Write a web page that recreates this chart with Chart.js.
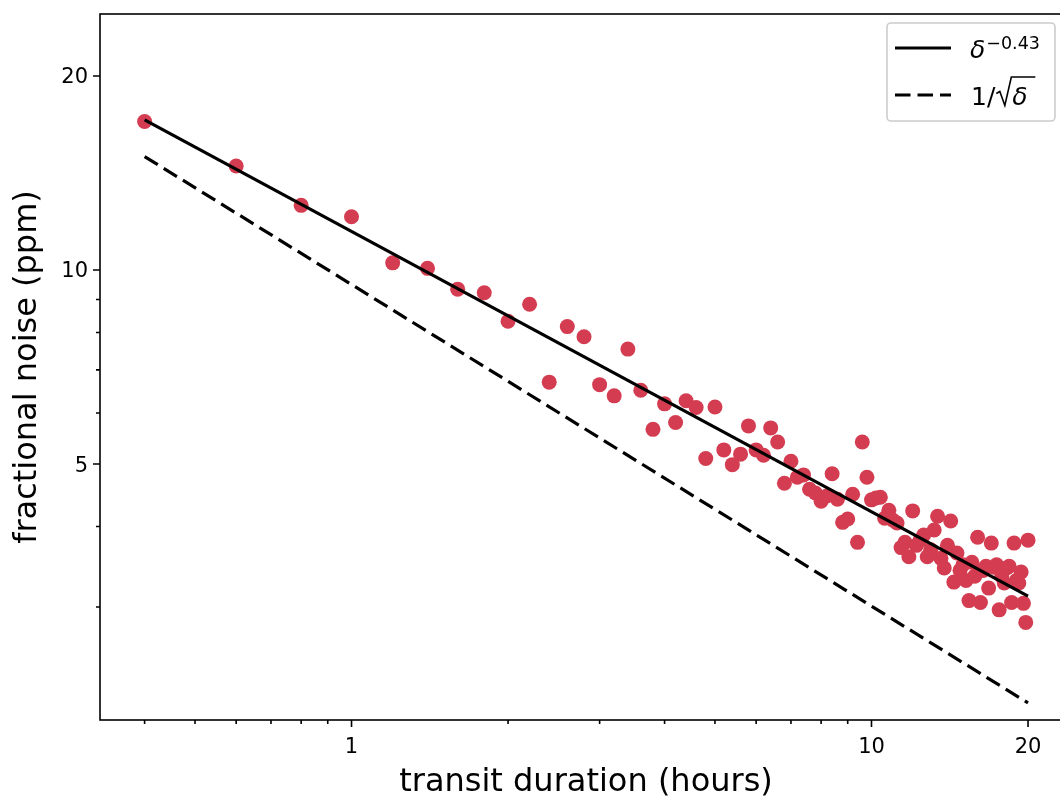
<!DOCTYPE html>
<html lang="en">
<head>
  <meta charset="UTF-8">
  <title>Fractional noise vs transit duration</title>
  <script src="https://cdn.jsdelivr.net/npm/chart.js"></script>
  <style>
    body {
      margin: 0;
      background: #ffffff;
    }
    .plot-wrap {
      width: 1060px;
      height: 802px;
      overflow: hidden;
    }
  </style>
</head>
<body>

<div class="plot-wrap">
  <canvas id="noiseChart" width="1080" height="802"></canvas>
</div>

<script>
// transit durations (hours) and measured fractional noise (ppm)
const durations = [
  0.4, 0.6, 0.8, 1.0, 1.2, 1.4, 1.6, 1.8, 2.0, 2.2,
  2.4, 2.6, 2.8, 3.0, 3.2, 3.4, 3.6, 3.8, 4.0, 4.2,
  4.4, 4.6, 4.8, 5.0, 5.2, 5.4, 5.6, 5.8, 6.0, 6.2,
  6.4, 6.6, 6.8, 7.0, 7.2, 7.4, 7.6, 7.8, 8.0, 8.2,
  8.4, 8.6, 8.8, 9.0, 9.2, 9.4, 9.6, 9.8, 10.0, 10.2,
  10.4, 10.6, 10.8, 11.0, 11.2, 11.4, 11.6, 11.8, 12.0, 12.2,
  12.4, 12.6, 12.8, 13.0, 13.2, 13.4, 13.6, 13.8, 14.0, 14.2,
  14.4, 14.6, 14.8, 15.0, 15.2, 15.4, 15.6, 15.8, 16.0, 16.2,
  16.4, 16.6, 16.8, 17.0, 17.2, 17.4, 17.6, 17.8, 18.0, 18.2,
  18.4, 18.6, 18.8, 19.0, 19.2, 19.4, 19.6, 19.8, 20.0
];
const noise = [
  17.0, 14.5, 12.6, 12.1, 10.26, 10.06, 9.34, 9.22, 8.33, 8.85,
  6.70, 8.17, 7.88, 6.64, 6.38, 7.54, 6.51, 5.66, 6.20, 5.80,
  6.27, 6.12, 5.10, 6.13, 5.26, 4.99, 5.18, 5.73, 5.26, 5.16,
  5.69, 5.41, 4.67, 5.05, 4.77, 4.81, 4.57, 4.51, 4.38, 4.46,
  4.83, 4.41, 4.06, 4.11, 4.49, 3.78, 5.41, 4.77, 4.40, 4.43,
  4.44, 4.12, 4.24, 4.09, 4.05, 3.71, 3.78, 3.59, 4.23, 3.74,
  3.81, 3.88, 3.59, 3.68, 3.95, 4.15, 3.57, 3.45, 3.74, 4.08,
  3.28, 3.64, 3.42, 3.49, 3.30, 3.07, 3.52, 3.35, 3.85, 3.05,
  3.42, 3.47, 3.21, 3.77, 3.46, 3.49, 2.97, 3.35, 3.27, 3.45,
  3.47, 3.05, 3.77, 3.30, 3.27, 3.40, 3.04, 2.84, 3.81
];

// end points of the two reference power laws
const fitX = [0.4, 20];
const fitPower = [17.1, 3.12];   // delta^-0.43
const fitSqrt = [15.0, 2.13];    // 1/sqrt(delta)

// tick positions; only the listed ones get a label
const xTicks = [0.4, 0.5, 0.6, 0.7, 0.8, 0.9, 1, 2, 3, 4, 5, 6, 7, 8, 9, 10, 20];
const xLabels = [1, 10, 20];
const yTicks = [3, 4, 5, 6, 7, 8, 9, 10, 20];
const yLabels = [5, 10, 20];

const FONT = "'DejaVu Sans', sans-serif";
const DOT = '#d43d51';

// box around the plot plus outward tick marks (major 7px, minor 4px)
const axesFrame = {
  id: 'axesFrame',
  afterDatasetsDraw(chart) {
    const { ctx, chartArea: a, scales } = chart;
    ctx.save();
    ctx.strokeStyle = '#000';
    ctx.lineWidth = 1.6;
    ctx.strokeRect(a.left, a.top, a.right - a.left, a.bottom - a.top);

    ctx.beginPath();
    xTicks.forEach(v => {
      const px = scales.x.getPixelForValue(v);
      const len = xLabels.includes(v) ? 7 : 4;
      ctx.moveTo(px, a.bottom);
      ctx.lineTo(px, a.bottom + len);
    });
    yTicks.forEach(v => {
      const py = scales.y.getPixelForValue(v);
      const len = yLabels.includes(v) ? 7 : 4;
      ctx.moveTo(a.left, py);
      ctx.lineTo(a.left - len, py);
    });
    ctx.stroke();
    ctx.restore();
  }
};

// legend with the math labels
const mathLegend = {
  id: 'mathLegend',
  afterDraw(chart) {
    const ctx = chart.ctx;
    ctx.save();

    const bx = 887, by = 23, bw = 168, bh = 98, r = 4;
    ctx.beginPath();
    ctx.moveTo(bx + r, by);
    ctx.arcTo(bx + bw, by, bx + bw, by + bh, r);
    ctx.arcTo(bx + bw, by + bh, bx, by + bh, r);
    ctx.arcTo(bx, by + bh, bx, by, r);
    ctx.arcTo(bx, by, bx + bw, by, r);
    ctx.closePath();
    ctx.fillStyle = 'rgba(255,255,255,0.8)';
    ctx.fill();
    ctx.strokeStyle = '#cccccc';
    ctx.lineWidth = 1.6;
    ctx.stroke();

    // line samples
    ctx.strokeStyle = '#000';
    ctx.lineWidth = 3.2;
    ctx.beginPath();
    ctx.moveTo(895, 48);
    ctx.lineTo(951, 48);
    ctx.stroke();

    ctx.setLineDash([15.5, 7]);
    ctx.beginPath();
    ctx.moveTo(895, 95);
    ctx.lineTo(951, 95);
    ctx.stroke();
    ctx.setLineDash([]);

    ctx.fillStyle = '#000';
    ctx.textBaseline = 'alphabetic';
    ctx.textAlign = 'left';

    // delta^{-0.43}
    ctx.font = 'italic 25px ' + FONT;
    ctx.fillText('δ', 970, 58);
    const dw = ctx.measureText('δ').width;
    ctx.font = '17.5px ' + FONT;
    ctx.fillText('\u22120.43', 970 + dw + 1, 48.5);

    // 1/sqrt(delta)
    ctx.font = '25px ' + FONT;
    ctx.fillText('1/', 971, 105);
    const w1 = ctx.measureText('1/').width;
    const sx = 971 + w1 + 1;
    ctx.lineWidth = 1.6;
    ctx.beginPath();
    ctx.moveTo(sx, 93.5);
    ctx.lineTo(sx + 3.5, 91.5);
    ctx.lineTo(sx + 8.5, 105.5);
    ctx.lineTo(sx + 15, 77);
    ctx.lineTo(sx + 39, 77);
    ctx.stroke();
    ctx.font = 'italic 25px ' + FONT;
    ctx.fillText('δ', sx + 16, 105);

    ctx.restore();
  }
};

// keep the plot box where the layout padding puts it
function fixAxisX(s) {
  s.height = 82;
  s.paddingLeft = 0;
  s.paddingRight = 0;
}
function fixAxisY(s) {
  s.width = 100;
  s.paddingTop = 0;
  s.paddingBottom = 0;
}

const points = durations.map((d, i) => ({ x: d, y: noise[i] }));

new Chart(document.getElementById('noiseChart'), {
  type: 'scatter',
  data: {
    datasets: [
      {
        label: 'δ^-0.43',
        data: fitX.map((d, i) => ({ x: d, y: fitPower[i] })),
        showLine: true,
        borderColor: '#000',
        borderWidth: 3.2,
        pointRadius: 0,
        order: 0
      },
      {
        label: '1/sqrt(δ)',
        data: fitX.map((d, i) => ({ x: d, y: fitSqrt[i] })),
        showLine: true,
        borderColor: '#000',
        borderWidth: 3.2,
        borderDash: [15.5, 7],
        borderCapStyle: 'butt',
        pointRadius: 0,
        order: 0
      },
      {
        label: 'noise',
        data: points,
        backgroundColor: DOT,
        borderWidth: 0,
        pointRadius: 7.5,
        order: 1
      }
    ]
  },
  options: {
    responsive: false,
    animation: false,
    events: [],
    layout: { padding: { top: 14, right: 8, left: 0, bottom: 0 } },
    plugins: {
      legend: { display: false },
      tooltip: { enabled: false }
    },
    scales: {
      x: {
        type: 'logarithmic',
        bounds: 'data',
        min: 0.3283,
        max: 24.3,
        grid: { display: false, drawTicks: true, tickLength: 7 },
        border: { display: false },
        afterBuildTicks: s => { s.ticks = xTicks.map(v => ({ value: v })); },
        afterFit: fixAxisX,
        ticks: {
          autoSkip: false,
          maxRotation: 0,
          padding: 8,
          color: '#000',
          font: { family: FONT, size: 21 },
          callback: v => xLabels.includes(v) ? String(v) : ''
        },
        title: {
          display: true,
          text: 'transit duration (hours)',
          color: '#000',
          font: { family: FONT, size: 32 },
          padding: { top: 0, bottom: 0 }
        }
      },
      y: {
        type: 'logarithmic',
        bounds: 'data',
        min: 2.004,
        max: 24.96,
        grid: { display: false, drawTicks: true, tickLength: 7 },
        border: { display: false },
        afterBuildTicks: s => { s.ticks = yTicks.map(v => ({ value: v })); },
        afterFit: fixAxisY,
        ticks: {
          autoSkip: false,
          padding: 5,
          labelOffset: 2,
          color: '#000',
          font: { family: FONT, size: 21 },
          callback: v => yLabels.includes(v) ? String(v) : ''
        },
        title: {
          display: true,
          text: 'fractional noise (ppm)',
          color: '#000',
          font: { family: FONT, size: 32 },
          padding: { top: 8, bottom: 0 }
        }
      }
    }
  },
  plugins: [axesFrame, mathLegend]
});
</script>

</body>
</html>
